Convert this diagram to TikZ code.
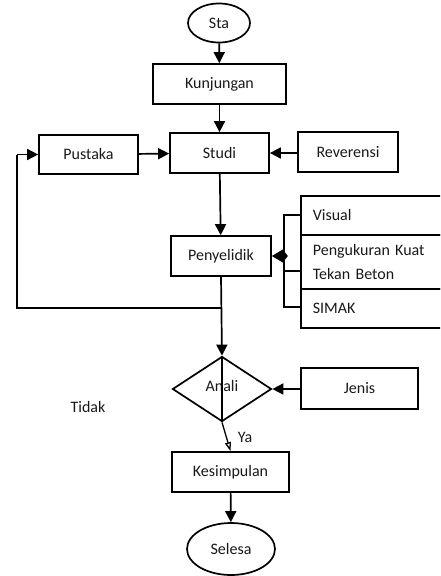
\documentclass[tikz,border=0pt]{standalone}
\usepackage{fontspec}
\setmainfont{Carlito}
\usetikzlibrary{arrows.meta,shapes.geometric}
\begin{document}
\begin{tikzpicture}[x=1pt,y=-1pt,
  every node/.style={font=\fontsize{16}{19}\selectfont, text=black!90},
  box/.style={draw, line width=1.7pt, rectangle, inner sep=0pt},
  oval/.style={draw, line width=1.7pt, ellipse, inner sep=0pt},
  cell/.style={draw, line width=1.7pt, rectangle, anchor=north west, minimum width=160pt, inner xsep=12pt, inner ysep=0pt, align=left, text width=136pt},
  conn/.style={line width=1.7pt},
  arr/.style={line width=1.7pt, -{Triangle[length=11pt,width=11pt]}},
  lbl/.style={inner sep=0pt}
]
\useasboundingbox (0,0) rectangle (440,576);
\clip (0,0) rectangle (440,576);

\node[oval, minimum width=62pt, minimum height=39pt] (sta) at (219,23) {Sta};
\node[box, minimum width=133pt, minimum height=40pt] (kunj) at (219.5,84) {Kunjungan};
\node[box, minimum width=99pt, minimum height=40pt] (studi) at (219.5,153) {Studi};
\node[box, minimum width=99pt, minimum height=39pt] (pustaka) at (88.5,154.5) {Pustaka};
\node[box, minimum width=100pt, minimum height=40pt] (rev) at (348,152) {Reverensi};
\node[box, minimum width=100pt, minimum height=40pt] (peny) at (221,256) {Penyelidik};

\node[cell, minimum height=39pt] (visual) at (300,195) {Visual};
\node[cell, minimum height=54pt] (peng) at (300,234) {Pengukuran Kuat\\[5pt]Tekan Beton};
\node[cell, minimum height=39pt] (simak) at (300,288) {SIMAK};

\node[draw, line width=1.7pt, diamond, minimum width=99pt, minimum height=65pt, inner sep=0pt, aspect=1.5] (anali) at (222,389) {};
\node[lbl] (analitxt) at (222,386) {Anali};
\node[box, minimum width=117pt, minimum height=41pt] (jenis) at (359.5,388.5) {Jenis};
\node[box, minimum width=117pt, minimum height=40pt] (kes) at (230.5,472) {Kesimpulan};
\node[oval, minimum width=88pt, minimum height=52pt] (sel) at (231,549) {Selesa};

\node[lbl] (ya) at (245,437) {Ya};
\node[lbl] (tidak) at (88,407) {Tidak};

% connectors
\draw[arr] (sta) -- (kunj);
\draw[arr] (kunj) -- (studi);
\draw[arr] (pustaka) -- (studi);
\draw[arr] (rev.west |- studi.east) -- (studi.east);
\draw[arr] (studi) -- (peny);
\draw[arr] (peny.south) -- (anali.north);
\draw[arr] (jenis.west |- anali.east) -- (anali.east);
\draw[conn] (anali.north) -- (anali.south);
\draw[line width=1.3pt, -{Triangle[length=9pt,width=6pt,open]}] (anali.south) -- (kes.north);
\draw[arr] (kes) -- (sel);

% feedback loop
\coordinate (jn) at (221,308);
\coordinate (fl) at (17,308);
\coordinate (ft) at (17,154.5);
\draw[conn] (jn) -- (fl) -- (ft);
\draw[arr] (ft) -- (pustaka.west);

% bracket
\coordinate (bt) at (284,215);
\coordinate (bm) at (284,271);
\coordinate (bb) at (284,307);
\coordinate (bc) at (286,256);
\draw[conn] (visual.west |- bt) -- (bt) -- (bb) -- (simak.west |- bb);
\draw[conn] (bm) -- (peng.west |- bm);
\draw[line width=1.7pt, -{Kite[length=16pt,width=13pt,inset=5pt]}] (bc) -- (peny.east);
\end{tikzpicture}
\end{document}
